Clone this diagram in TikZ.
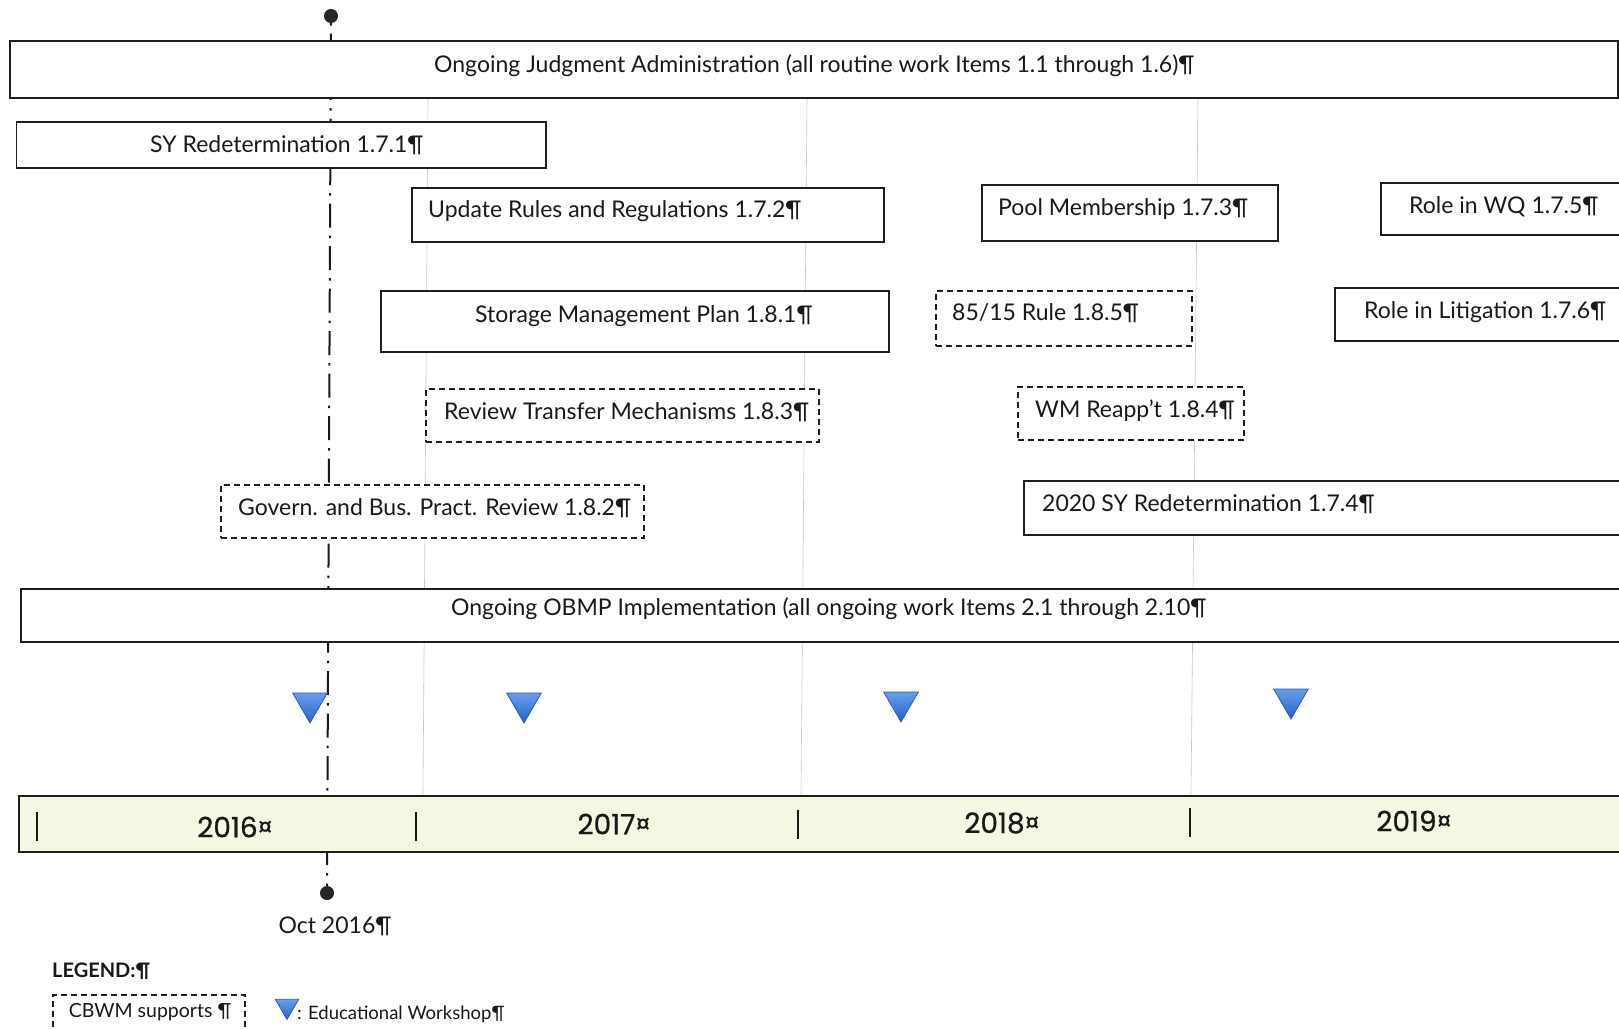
\documentclass[tikz,border=0pt]{standalone}
\usepackage{fontspec}
\setmainfont{Lato}
\newfontfamily\yearfont[FakeBold=0.7]{Poppins}
\usetikzlibrary{shapes.geometric}
\definecolor{barfill}{RGB}{243,248,226}
\definecolor{tritop}{RGB}{100,160,235}
\definecolor{tribot}{RGB}{40,95,200}
\definecolor{triedge}{RGB}{45,90,175}
\definecolor{boxline}{RGB}{30,30,30}
\begin{document}
\begin{tikzpicture}[x=1pt,y=-1pt,
  box/.style={draw=boxline, line width=1.8pt, fill=white, inner sep=0pt, anchor=north west},
  dbox/.style={box, dash pattern=on 6pt off 4pt, line width=1.5pt},
  txt/.style={font=\fontsize{23}{27}\selectfont, inner sep=0pt, anchor=mid west, text=black!90},
  yr/.style={font=\yearfont\fontsize{28}{32}\selectfont, inner sep=0pt, text=black!90},
  guide/.style={draw=black!22, line width=0.6pt},
  dashdot/.style={draw=black!90, line width=2pt, dash pattern=on 2.5pt off 8pt on 24pt off 8pt},
  wshop/.style={regular polygon, regular polygon sides=3, shape border rotate=180,
    minimum size=40pt, inner sep=0pt, draw=triedge, line width=0.8pt, top color=tritop, bottom color=tribot},
  pin/.style={circle, fill=black!85, minimum size=14pt, inner sep=0pt}
]
\useasboundingbox (0,0) rectangle (1619,1030);
\fill[white] (0,0) rectangle (1619,1030);

% faint year guide lines
\draw[guide] (428,97) -- (423,795);
\draw[guide] (807,97) -- (801,795);
\draw[guide] (1198,97) -- (1191,795);

% Oct 2016 milestone line
\node[pin] (topdot) at (331,16) {};
\node[pin] (botdot) at (327,893) {};
\draw[dashdot] (topdot) -- (botdot);

% boxes
\node[box, minimum width=1608pt, minimum height=57pt] (b1) at (9,40) {};
\node[txt] (t1) at (434,70) {Ongoing Judgment Administration (all routine work Items 1.1 through 1.6)¶};

\node[box, minimum width=529.5pt, minimum height=46pt] (b2) at (15.5,121) {};
\node[txt] (t2) at (150,150) {SY Redetermination 1.7.1¶};

\node[box, minimum width=472pt, minimum height=54pt] (b3) at (411,187) {};
\node[txt] (t3) at (428,215) {Update Rules and Regulations 1.7.2¶};

\node[box, minimum width=296pt, minimum height=56pt] (b4) at (981,184) {};
\node[txt] (t4) at (998,213) {Pool Membership 1.7.3¶};

\node[box, minimum width=250pt, minimum height=52pt] (b5) at (1380,182) {};
\node[txt] (t5) at (1409,211) {Role in WQ 1.7.5¶};

\node[box, minimum width=508pt, minimum height=61pt] (b6) at (380,290) {};
\node[txt] (t6) at (475,320) {Storage Management Plan 1.8.1¶};

\node[dbox, minimum width=256pt, minimum height=55pt] (b7) at (935,290) {};
\node[txt] (t7) at (952,318) {85/15 Rule 1.8.5¶};

\node[box, minimum width=296pt, minimum height=53pt] (b8) at (1334,287) {};
\node[txt] (t8) at (1364,316) {Role in Litigation 1.7.6¶};

\node[dbox, minimum width=393pt, minimum height=53pt] (b9) at (425,388) {};
\node[txt] (t9) at (444,417) {Review Transfer Mechanisms 1.8.3¶};

\node[dbox, minimum width=226pt, minimum height=53pt] (b10) at (1017,386) {};
\node[txt] (t10) at (1035,415) {WM Reapp't 1.8.4¶};

\node[dbox, minimum width=423pt, minimum height=53pt] (b11) at (220,484) {};
\node[txt] (t11) at (238,513) {Govern. and Bus. Pract. Review 1.8.2¶};

\node[box, minimum width=607pt, minimum height=54pt] (b12) at (1023,480) {};
\node[txt] (t12) at (1042,509) {2020 SY Redetermination 1.7.4¶};

\node[box, minimum width=1610pt, minimum height=53pt] (b13) at (20,588) {};
\node[txt] (t13) at (451,613) {Ongoing OBMP Implementation (all ongoing work Items 2.1 through 2.10¶};

% workshops
\node[wshop] (w1) at (310,703) {};
\node[wshop] (w2) at (524,703) {};
\node[wshop] (w3) at (901,702) {};
\node[wshop] (w4) at (1291,699) {};

% year bar
\node[box, fill=barfill, minimum width=1612pt, minimum height=56pt] (bar) at (18,795) {};
\draw[draw=black!90, line width=1.5pt] (37,812) -- (37,841);
\draw[draw=black!90, line width=1.5pt] (416,812) -- (416,841);
\draw[draw=black!90, line width=1.5pt] (798,810) -- (798,839);
\draw[draw=black!90, line width=1.5pt] (1190,808) -- (1190,837);
\node[yr] (y16) at (235,827) {2016¤};
\node[yr] (y17) at (614,824) {2017¤};
\node[yr] (y18) at (1002,823) {2018¤};
\node[yr] (y19) at (1414,821) {2019¤};

\node[txt, anchor=mid] (oct) at (335,931) {Oct 2016¶};

% legend
\node[txt, anchor=mid west, font=\bfseries\fontsize{20}{24}\selectfont] (leg) at (52,975) {LEGEND:¶};
\node[dbox, minimum width=192pt, minimum height=50pt] (lbox) at (52,994) {};
\node[txt, anchor=mid, font=\fontsize{19.5}{23}\selectfont] (lt) at (150,1015) {CBWM supports ¶};
\node[wshop, minimum size=27pt] (lw) at (287,1006) {};
\node[txt, font=\fontsize{18.5}{22}\selectfont] (lwt) at (297,1017) {: Educational Workshop¶};
\end{tikzpicture}
\end{document}
